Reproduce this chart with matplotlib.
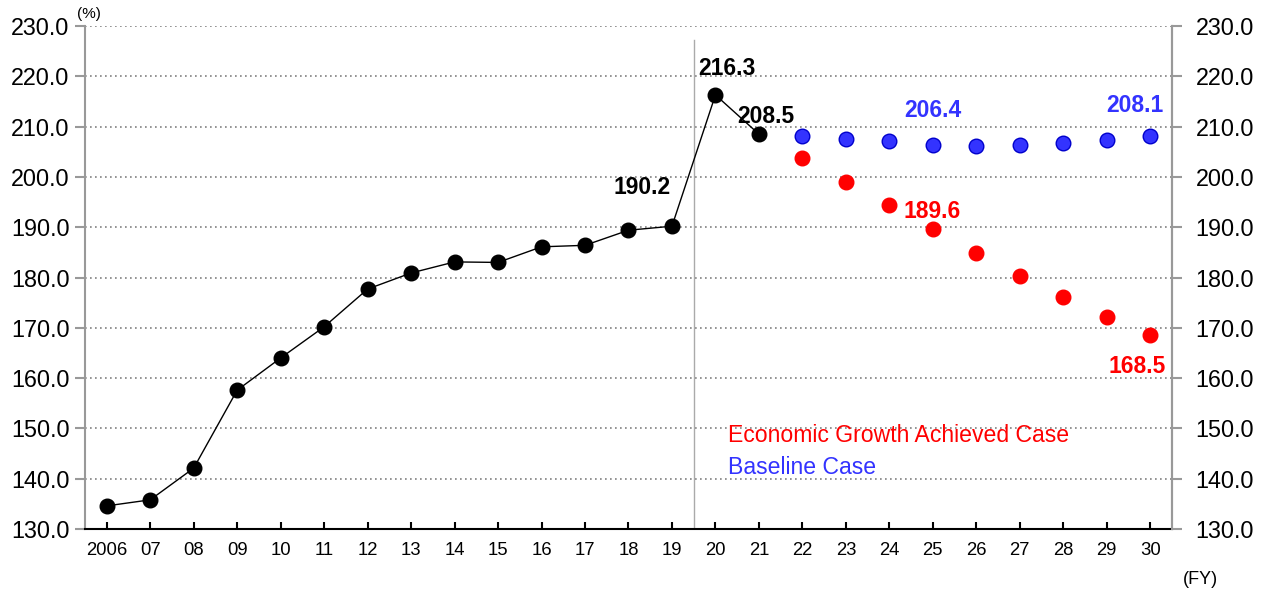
import matplotlib.pyplot as plt

plt.rcParams['font.family'] = ['Liberation Sans', 'DejaVu Sans']

# fiscal years shown on the x axis
years = ['2006', '07', '08', '09', '10', '11', '12', '13', '14', '15', '16', '17',
         '18', '19', '20', '21', '22', '23', '24', '25', '26', '27', '28', '29', '30']

# actual results, FY2006-FY2021
actual = [134.6, 135.8, 142.1, 157.6, 164.0, 170.2, 177.7, 180.9, 183.1, 183.0,
          186.1, 186.4, 189.4, 190.2, 216.3, 208.5]

# projections, FY2022-FY2030
baseline = [208.1, 207.5, 207.1, 206.4, 206.1, 206.3, 206.7, 207.4, 208.1]
growth = [203.8, 199.0, 194.4, 189.6, 184.9, 180.3, 176.1, 172.1, 168.5]

x = list(range(len(years)))
x_actual = x[:len(actual)]
x_proj = x[len(actual):]

blue = '#3333ff'
red = '#ff0000'

fig = plt.figure(figsize=(12.61, 5.95), dpi=100)
ax = fig.add_axes([0.0674, 0.1109, 0.862, 0.8454])

ax.plot(x_actual, actual, color='black', lw=1, marker='o', ms=10.5,
        mfc='black', mec='black', zorder=4)
ax.plot(x_proj, baseline, ls='none', marker='o', ms=10.5, mfc=blue,
        mec='#0000cc', mew=1, zorder=4)
ax.plot(x_proj, growth, ls='none', marker='o', ms=10.5, mfc=red,
        mec=red, zorder=4)

ax.set_xlim(-0.5, len(years) - 0.5)
ax.set_ylim(130, 230)
ax.set_yticks(range(130, 231, 10))
ax.set_yticklabels([f'{v:.1f}' for v in range(130, 231, 10)])
ax.set_xticks(x)
ax.set_xticklabels(years)

for v in range(140, 231, 10):
    ax.axhline(v, color='#808080', lw=1.2, ls=(0, (1, 2)), zorder=1)

# boundary between results and projections
ax.axvline(13.5, ymax=0.972, color='#aaaaaa', lw=1, zorder=2)

ax.spines['top'].set_visible(False)
ax.spines['left'].set_color('#999999')
ax.spines['left'].set_linewidth(1.5)
ax.spines['right'].set_color('#999999')
ax.spines['right'].set_linewidth(1.5)
ax.spines['bottom'].set_color('black')
ax.spines['bottom'].set_linewidth(1.5)

ax.tick_params(axis='y', direction='out', length=7, width=1.5, color='#999999',
               labelsize=16.8, pad=4)
ax.tick_params(axis='x', direction='in', length=5, width=1.5, color='black',
               labelsize=13.3, pad=9)

ax2 = ax.twinx()
ax2.set_ylim(ax.get_ylim())
ax2.set_yticks(ax.get_yticks())
ax2.set_yticklabels([f'{v:.1f}' for v in range(130, 231, 10)])
ax2.tick_params(axis='y', direction='out', length=7, width=1.5, color='#999999',
                labelsize=16.8, pad=10)
for side in ['top', 'left', 'bottom']:
    ax2.spines[side].set_visible(False)
ax2.spines['right'].set_color('#999999')
ax2.spines['right'].set_linewidth(1.5)

# value labels
lab = dict(fontsize=16.5, fontweight='bold', ha='center', va='center')
ax.annotate(f'{actual[14]:.1f}', (x[14], actual[14]), xytext=(11, 26),
            textcoords='offset pixels', color='black', **lab)
ax.annotate(f'{actual[15]:.1f}', (x[15], actual[15]), xytext=(7, 18),
            textcoords='offset pixels', color='black', **lab)
ax.annotate(f'{actual[13]:.1f}', (x[13], actual[13]), xytext=(-30, 39),
            textcoords='offset pixels', color='black', **lab)
ax.annotate(f'{baseline[3]:.1f}', (x_proj[3], baseline[3]), xytext=(0, 34),
            textcoords='offset pixels', color=blue, **lab)
ax.annotate(f'{baseline[8]:.1f}', (x_proj[8], baseline[8]), xytext=(-15, 31),
            textcoords='offset pixels', color=blue, **lab)
ax.annotate(f'{growth[3]:.1f}', (x_proj[3], growth[3]), xytext=(-1, 18),
            textcoords='offset pixels', color=red, **lab)
ax.annotate(f'{growth[8]:.1f}', (x_proj[8], growth[8]), xytext=(-13, -31),
            textcoords='offset pixels', color=red, **lab)

# case names
fig.text(728 / 1261, 1 - 435 / 595, 'Economic Growth Achieved Case',
         fontsize=16.6, color=red, ha='left', va='center')
fig.text(728 / 1261, 1 - 468 / 595, 'Baseline Case',
         fontsize=16.6, color=blue, ha='left', va='center')

fig.text(89 / 1261, 1 - 14 / 595, '(%)', fontsize=11, ha='center', va='center')
fig.text(1200 / 1261, 1 - 580 / 595, '(FY)', fontsize=13, ha='center', va='center')

fig.savefig('out.png', dpi=100)
